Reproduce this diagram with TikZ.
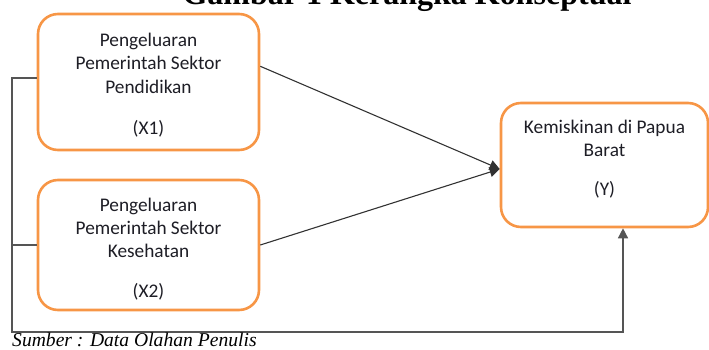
\documentclass[tikz,border=0pt]{standalone}
\usepackage{fontspec}
\setmainfont{Carlito}
\newfontfamily\capfont{Liberation Serif}
\usepackage{xcolor}
\usepackage{tikz}
\usetikzlibrary{arrows.meta, positioning, calc}
\definecolor{myorange}{RGB}{247,150,70}
\definecolor{mydark}{RGB}{50,50,50}
\definecolor{mytext}{RGB}{30,30,38}
\definecolor{mygray}{RGB}{85,85,85}
\tikzset{
  varbox/.style={rectangle, draw=myorange, fill=white,
    align=center, rounded corners=20pt, line width=2.6pt,
    text=mytext, font=\fontsize{19.3}{23.2}\selectfont},
  arrow/.style={-{Triangle[length=10pt,width=10pt]}, line width=1.1pt, color=mydark},
  loopline/.style={line width=1.4pt, color=mygray},
  looparrow/.style={-{Triangle[length=10pt,width=10pt]}, line width=1.4pt, color=mygray}
}

\begin{document}
\begin{tikzpicture}[x=1pt, y=1pt]
  \useasboundingbox (0,0) rectangle (709,349);

  % Title (cut off at the top)
  \node[anchor=base, inner sep=0pt, font=\capfont\bfseries\fontsize{32}{36}\selectfont] (title) at (407,344) {Gambar 1 Kerangka Konseptual};

  % Variable boxes
  \node[varbox, minimum width=221pt, minimum height=136pt] (x1) at (148.5,267)
    {\\[-3.5pt]Pengeluaran\\Pemerintah Sektor\\Pendidikan\\[18pt](X1)};
  \node[varbox, minimum width=221pt, minimum height=130pt] (x2) at (148.5,104)
    {\\[-1.5pt]Pengeluaran\\Pemerintah Sektor\\Kesehatan\\[17pt](X2)};
  \node[varbox, minimum width=207pt, minimum height=124pt] (ky) at (604.5,184)
    {\\[-21.5pt]Kemiskinan di Papua\\Barat\\[16pt](Y)};

  % Corner points of the outer line
  \coordinate (lb) at (12,17);
  \coordinate (rb) at (623,17);

  % Arrows to Y
  \draw[arrow] (x1.8) -- ($(ky.west)+(0,-4)$);
  \draw[arrow] (x2.east) -- ($(ky.west)+(0,-4)$);

  % Outer line
  \draw[looparrow] ($(x1.west)+(0,4)$) -| (lb) -| (rb |- ky.south);
  \draw[loopline] (x2.west) -- (x2.west -| lb);

  % Source
  \node[anchor=base west, inner sep=0pt, font=\capfont\itshape\fontsize{19.6}{23}\selectfont] (src) at (12,2.5) {Sumber : Data Olahan Penulis};
\end{tikzpicture}
\end{document}
